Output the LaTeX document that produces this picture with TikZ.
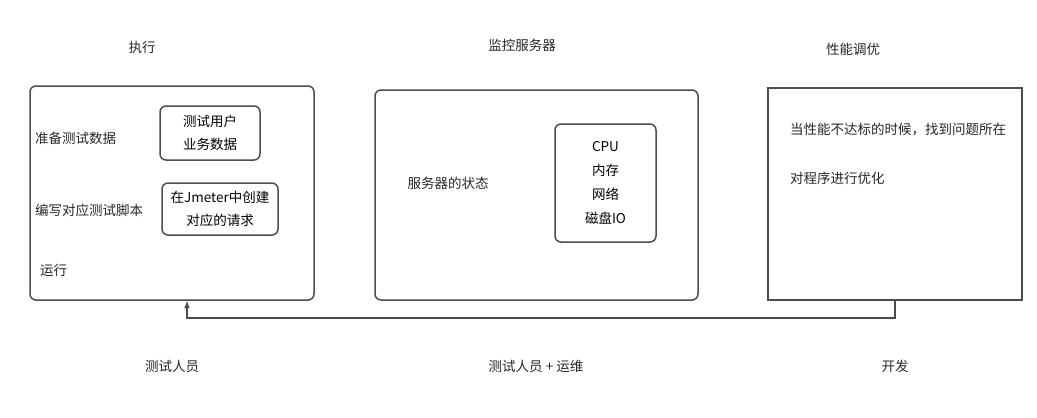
\documentclass[tikz,border=0pt]{standalone}
\usepackage{fontspec}
\setmainfont{Noto Sans CJK SC}
\begin{document}
\begin{tikzpicture}[x=1pt,y=-1pt,
  bx/.style={draw=black!70,line width=1.5pt,rounded corners=6pt},
  t/.style={font=\fontsize{13.5}{16}\selectfont,text=black!85,inner sep=0pt}]
\useasboundingbox (0,0) rectangle (1037,418);
\node[t] (h1) at (142,47) {执行};
\node[t] (h2) at (522,45) {监控服务器};
\node[t] (h3) at (853,49) {性能调优};
\node[bx,minimum width=284pt,minimum height=214pt,inner sep=0pt] (b1) at (172,193) {};
\node[t,anchor=west] (a1) at (35,138) {准备测试数据};
\node[t,anchor=west] (a2) at (35,210) {编写对应测试脚本};
\node[t,anchor=west] (a3) at (40,270) {运行};
\node[bx,minimum width=100pt,minimum height=54pt,inner sep=0pt,align=center,font=\fontsize{13.5}{23}\selectfont] (s1) at (210,133) {测试用户\\业务数据};
\node[bx,minimum width=116pt,minimum height=52pt,inner sep=0pt,align=center,font=\fontsize{13.5}{23}\selectfont] (s2) at (220,209) {在Jmeter中创建\\对应的请求};
\node[bx,minimum width=323pt,minimum height=210pt,inner sep=0pt] (b2) at (536.5,195) {};
\node[t] (m1) at (448,183) {服务器的状态};
\node[bx,minimum width=101pt,minimum height=118pt,inner sep=0pt,align=center,font=\fontsize{13.5}{24}\selectfont] (s3) at (605.5,183) {CPU\\内存\\网络\\磁盘IO};
\node[draw=black!70,line width=1.5pt,minimum width=254pt,minimum height=212pt,inner sep=0pt] (b3) at (895,194) {};
\node[t,anchor=west] (p1) at (790,130) {当性能不达标的时候，找到问题所在};
\node[t,anchor=west] (p2) at (790,178) {对程序进行优化};
\coordinate (c1) at (895,318);
\coordinate (c2) at (187,318);
\draw[black!70,line width=1.5pt,-latex] (b3.south) -- (c1) -- (c2) -- (b1.south -| c2);
\node[t] (r1) at (172,366) {测试人员};
\node[t] (r2) at (536,366) {测试人员 + 运维};
\node[t] (r3) at (895,366) {开发};
\end{tikzpicture}
\end{document}
